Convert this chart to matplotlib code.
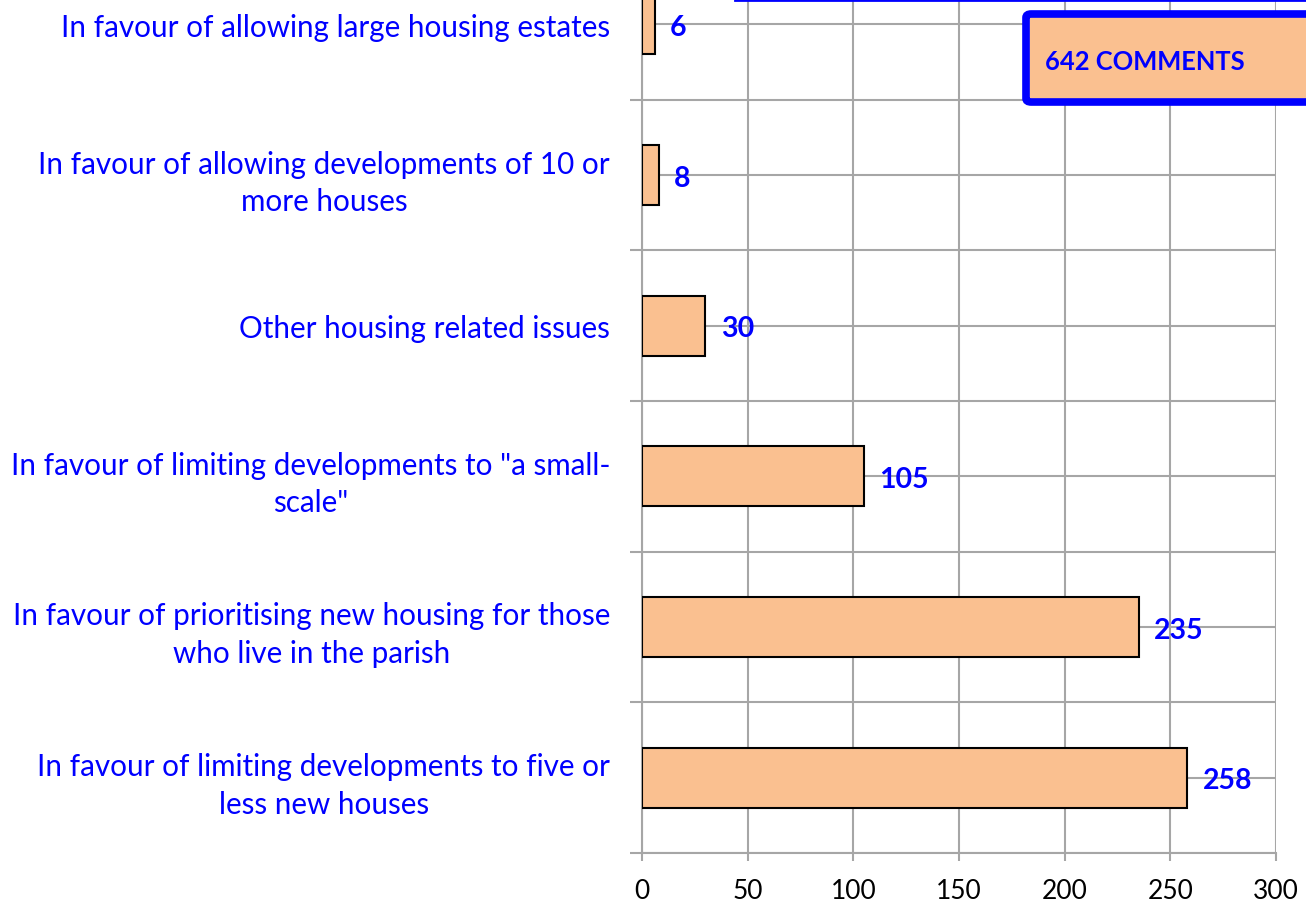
import matplotlib.pyplot as plt
import matplotlib.patches as patches
import numpy as np

# categorias de abajo hacia arriba
etiquetas = [
    "In favour of limiting developments to five or\nless new houses",
    "In favour of prioritising new housing for those\nwho live in the parish",
    "In favour of limiting developments to \"a small-\nscale\"",
    "Other housing related issues",
    "In favour of allowing developments of 10 or\nmore houses",
    "In favour of allowing large housing estates",
]
valores = [258, 235, 105, 30, 8, 6]
ticks_x = [0, 50, 100, 150, 200, 250, 300]
total_texto = "642 COMMENTS"

plt.rcParams['font.family'] = ['Lato', 'DejaVu Sans']
color_barra = "#FAC090"
azul = "#0000FF"
gris = "#A6A6A6"

fig = plt.figure(figsize=(13.06, 9.04), dpi=100)
ax = fig.add_axes([642/1306, 50/904, 634/1306, 904/904])

y = np.arange(len(valores))
ax.barh(y, valores, height=0.4, color=color_barra, edgecolor="black", linewidth=1.5, zorder=3)

for yi, v in zip(y, valores):
    ax.annotate(str(v), (v, yi), xytext=(11, -2), textcoords="offset points",
                va="center", ha="left", color=azul, fontsize=20.5, fontweight="bold", zorder=4)

ax.set_xlim(0, 300)
ax.set_ylim(-0.5, len(valores) - 0.5)
ax.set_xticks(ticks_x)
ax.set_xticklabels([str(t) for t in ticks_x])
ax.set_yticks(y)
ax.set_yticklabels(etiquetas, ha="right", multialignment="center", color=azul,
                   fontsize=21.3, linespacing=1.42)
ax.set_yticks(np.arange(-0.5, len(valores), 1.0), minor=True)

ax.tick_params(axis="y", which="major", length=0, pad=23)
ax.tick_params(axis="y", which="minor", length=9, width=1.5, color=gris, direction="out")
ax.tick_params(axis="x", length=6, width=1.5, color=gris, labelsize=19, pad=12)

ax.grid(True, axis="x", color=gris, linewidth=1.5, zorder=0)
ax.grid(True, axis="y", which="both", color=gris, linewidth=1.5, zorder=0)
ax.set_axisbelow(True)
for s in ["top", "right"]:
    ax.spines[s].set_visible(False)
ax.spines["left"].set_color(gris)
ax.spines["bottom"].set_color(gris)
ax.spines["left"].set_linewidth(1.5)
ax.spines["bottom"].set_linewidth(1.5)

# cuadro azul de arriba (cortado)
fig.patches.append(patches.Rectangle((735/1306, 1 - 1/904), 0.6, 0.2, transform=fig.transFigure,
                                     facecolor="white", edgecolor=azul, linewidth=2, zorder=5))
# cuadro del total
caja = patches.FancyBboxPatch((1026/1306, 1 - 103/904), 0.3, 88/904,
                              boxstyle="round,pad=0,rounding_size=0.004",
                              transform=fig.transFigure, facecolor=color_barra,
                              edgecolor=azul, linewidth=5.5, zorder=5)
fig.patches.append(caja)
fig.text(1045/1306, 1 - 62/904, total_texto, color=azul, fontsize=18.4, fontweight="bold",
         va="center", ha="left", zorder=6)

plt.savefig("out.png", dpi=100)
